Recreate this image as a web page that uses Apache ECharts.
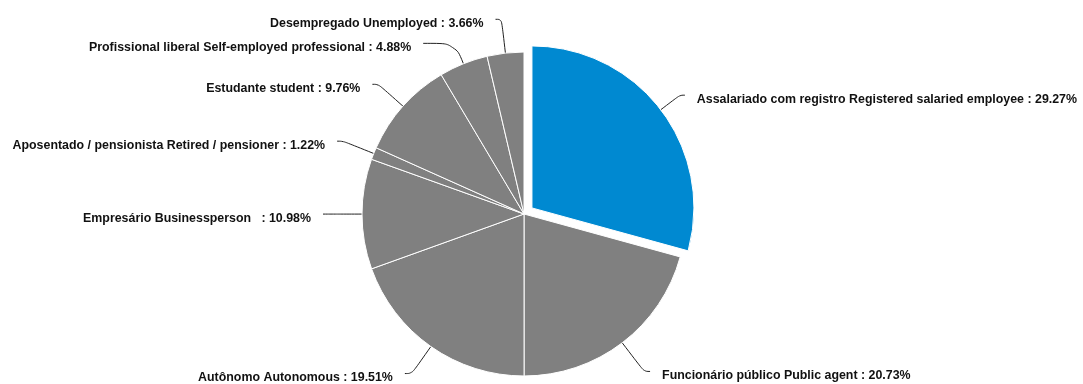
<!DOCTYPE html>
<html>
<head>
<meta charset="utf-8">
<script src="https://cdn.jsdelivr.net/npm/echarts@6/dist/echarts.min.js"></script>
<style>
  html, body { margin: 0; padding: 0; background: #ffffff; }
  #chart { width: 1083px; height: 384px; }
</style>
</head>
<body>
<div id="chart"></div>
<script>
// Occupation of respondents (share of total, %)
const categories = [
  'Assalariado com registro Registered salaried employee',
  'Funcionário público Public agent',
  'Autônomo Autonomous',
  'Empresário Businessperson  ',
  'Aposentado / pensionista Retired / pensioner',
  'Estudante student',
  'Profissional liberal Self-employed professional',
  'Desempregado Unemployed'
];
const values = [29.27, 20.73, 19.51, 10.98, 1.22, 9.76, 4.88, 3.66];
const sliceColors = ['#0089d1', '#808080', '#808080', '#808080', '#808080', '#808080', '#808080', '#808080'];

// connector geometry per slice: radial part, then horizontal part
const leaderRadial = [24, 36, 33, 27, 33, 33, 22, 34];
const leaderFlat   = [5, 6, 7, 12, 6, 6, 32, 6];

const labelFont = {
  fontFamily: 'Liberation Sans, Arial, sans-serif',
  fontWeight: 'bold',
  fontSize: 12.4,
  color: '#111111'
};

const chart = echarts.init(document.getElementById('chart'), null, { renderer: 'canvas' });

chart.setOption({
  backgroundColor: '#ffffff',
  animation: false,
  series: [{
    type: 'pie',
    center: [524, 214],
    radius: 162,
    startAngle: 90,
    clockwise: true,
    selectedMode: 'single',
    selectedOffset: 10,
    avoidLabelOverlap: false,
    itemStyle: { borderColor: '#ffffff', borderWidth: 1 },
    emphasis: { disabled: true },
    label: Object.assign({
      show: true,
      position: 'outside',
      distanceToLabelLine: 12,
      formatter: p => '{t|' + p.name + ' : ' + values[p.dataIndex].toFixed(2) + '%}',
      rich: {
        // text sits a little below the end of its connector
        t: Object.assign({ padding: [8, 0, 0, 0] }, labelFont)
      }
    }, labelFont),
    labelLine: {
      show: true,
      smooth: 0.4,
      lineStyle: { color: '#222222', width: 1 }
    },
    data: categories.map((name, i) => ({
      name: name,
      value: values[i],
      selected: i === 0,
      itemStyle: { color: sliceColors[i] },
      labelLine: { length: leaderRadial[i], length2: leaderFlat[i] }
    }))
  }]
});
</script>
</body>
</html>
